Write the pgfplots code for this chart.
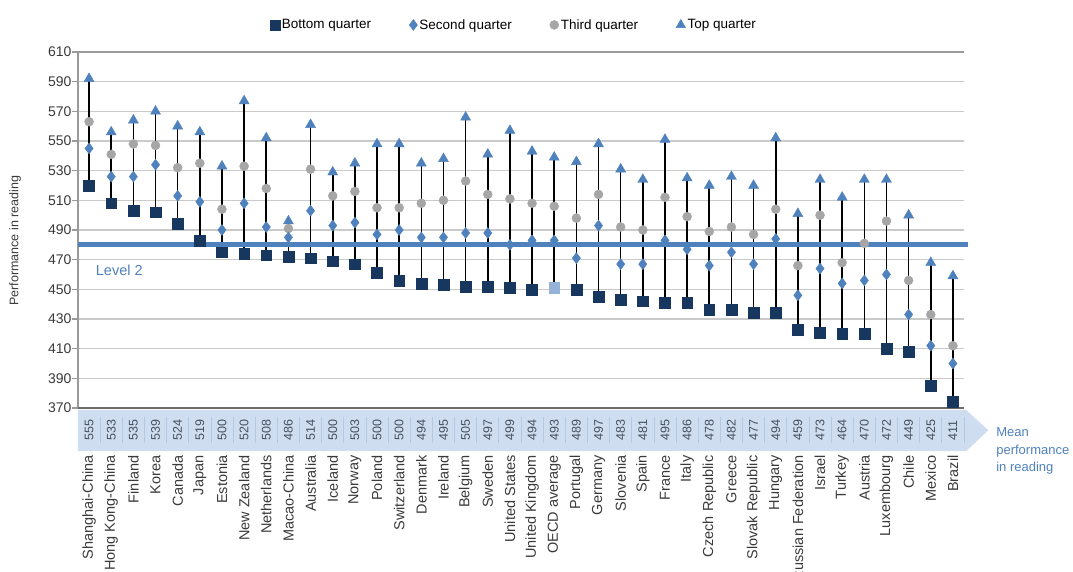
\documentclass[border=0pt]{standalone}
\usepackage{fontspec}
\setmainfont{Liberation Sans}
\usepackage{pgfplots}
\usepackage{pgfplotstable}
\pgfplotsset{compat=1.18}

\definecolor{bq}{HTML}{17375E}
\definecolor{sq}{HTML}{4F81BD}
\definecolor{tq}{HTML}{A6A6A6}
\definecolor{oecd}{HTML}{95B3D7}
\definecolor{band}{HTML}{CFDDF0}
\definecolor{bandline}{HTML}{B4C8E3}
\definecolor{txt}{HTML}{3A3A3A}
\definecolor{meantxt}{HTML}{46505F}
\definecolor{gridc}{HTML}{CACACA}
\definecolor{framec}{HTML}{9A9A9A}

% quartile cut points and mean, PISA reading
\pgfplotstableread{
idx bottom second third top mean
0  520 545 563 592 555
1  508 526 541 556 533
2  503 526 548 564 535
3  502 534 547 570 539
4  494 513 532 560 524
5  483 509 535 556 519
6  475 490 504 533 500
7  474 508 533 577 520
8  473 492 518 552 508
9  472 485 491 496 486
10 471 503 531 561 514
11 469 493 513 529 500
12 467 495 516 535 503
13 461 487 505 548 500
14 456 490 505 548 500
15 454 485 508 535 494
16 453 485 510 538 495
17 452 488 523 566 505
18 452 488 514 541 497
19 451 480 511 557 499
20 450 483 508 543 494
21 451 483 506 539 493
22 450 471 498 536 489
23 445 493 514 548 497
24 443 467 492 531 483
25 442 467 490 524 481
26 441 483 512 551 495
27 441 477 499 525 486
28 436 466 489 520 478
29 436 475 492 526 482
30 434 467 487 520 477
31 434 484 504 552 494
32 423 446 466 501 459
33 421 464 500 524 473
34 420 454 468 512 464
35 420 456 481 524 470
36 410 460 496 524 472
37 408 433 456 500 449
38 385 412 433 468 425
39 374 400 412 459 411
}\pisa

\begin{document}
\begin{tikzpicture}
\path[use as bounding box] (-78pt,-164pt) rectangle (995pt,408pt);
\begin{axis}[
    scale only axis,
    width=886pt, height=356pt,
    xmin=-0.5, xmax=39.5,
    ymin=370, ymax=610,
    clip=false,
    separate axis lines,
    axis x line*=bottom,
    axis y line*=left,
    x axis line style={draw=none},
    y axis line style={draw=none},
    ytick={370,390,...,610},
    ytick style={draw=none},
    xtick={0,...,39},
    xtick style={draw=none},
    xticklabels={Shanghai-China, Hong Kong-China, Finland, Korea, Canada, Japan,
      Estonia, New Zealand, Netherlands, Macao-China, Australia, Iceland, Norway,
      Poland, Switzerland, Denmark, Ireland, Belgium, Sweden, United States,
      United Kingdom, OECD average, Portugal, Germany, Slovenia, Spain, France,
      Italy, Czech Republic, Greece, Slovak Republic, Hungary, Russian Federation,
      Israel, Turkey, Austria, Luxembourg, Chile, Mexico, Brazil},
    xticklabel shift=44pt,
    xticklabel style={rotate=90, anchor=east, font=\fontsize{14.5}{16}\selectfont, text=txt},
    yticklabel style={font=\fontsize{14}{16}\selectfont, text=txt, xshift=-3pt},
    /pgf/number format/assume math mode=true,
    ylabel={Performance in reading},
    every axis y label/.style={at={(axis description cs:-0.071,0.47)}, rotate=90,
      anchor=center, font=\fontsize{12.5}{14}\selectfont, text=txt},
    legend style={at={(0.492,1.076)}, anchor=center, draw=none, fill=none,
      font=\fontsize{13.5}{15}\selectfont, text=black,
      /tikz/every even column/.append style={column sep=36pt}},
    legend columns=4,
]
% blank out the stray right border line
\draw[white, line width=2pt] (axis cs:39.5,369) -- (axis cs:39.5,611);
% horizontal grid with short outside ticks
\foreach \g in {390,410,...,590} {
  \edef\tmp{\noexpand\draw[gridc, line width=1.6pt] (axis cs:-0.5,\g) -- (axis cs:39.5,\g);
    \noexpand\draw[framec, line width=1.4pt] (axis cs:-0.5,\g) -- ++(-6pt,0pt);}\tmp
}
\draw[framec, line width=1.4pt] (axis cs:-0.5,370) -- ++(-6pt,0pt);
\draw[framec, line width=1.4pt] (axis cs:-0.5,610) -- ++(-6pt,0pt);
% mean band below the axis
\fill[band] (axis cs:-0.5,368.7) -- (axis cs:39.6,368.7) -- (axis cs:40.6,354.9)
  -- (axis cs:39.6,341) -- (axis cs:-0.5,341) -- cycle;
\addplot[forget plot, only marks, mark=|, mark size=13pt,
  mark options={draw=bandline, line width=0.8pt}]
  table[x expr=\thisrow{idx}+0.5, y expr=355] {\pisa};
\addplot[forget plot, only marks, mark=none, point meta=explicit,
  nodes near coords,
  nodes near coords style={rotate=90, anchor=center,
    font=\fontsize{12.5}{14}\selectfont, text=meantxt}]
  table[x=idx, y expr=355, meta=mean] {\pisa};

% frame lines: top, left, bottom
\draw[framec, line width=1.6pt] (axis cs:-0.5,610) -- (axis cs:39.5,610);
\draw[framec, line width=1.6pt] (axis cs:-0.5,370) -- (axis cs:-0.5,610);
\draw[gray!85!black, line width=2.4pt] (axis cs:-0.5,370) -- (axis cs:39.5,370);

% quartile markers
\addplot[forget plot, only marks, mark=*, mark size=4.5pt,
  mark options={draw=tq, fill=tq}] table[x=idx, y=third] {\pisa};
\addplot[forget plot, only marks, mark=diamond*, mark size=5.5pt,
  mark options={draw=sq, fill=sq}] table[x=idx, y=second] {\pisa};
\addplot[forget plot, only marks, mark=triangle*, mark size=5.8pt,
  mark options={draw=sq, fill=sq}] table[x=idx, y=top] {\pisa};
% whiskers bottom to top
\addplot[forget plot, only marks, mark=none,
  error bars/.cd, y dir=plus, y explicit, error mark=none,
  error bar style={draw=black, solid, line width=1.6pt}]
  table[x=idx, y=bottom, y error expr=\thisrow{top}-\thisrow{bottom}] {\pisa};
% level 2 threshold
\addplot[forget plot, draw=sq, line width=4.8pt] coordinates {(-0.5,480) (39.7,480)};
\node[anchor=west, text=sq, font=\fontsize{14.5}{16}\selectfont] at (axis cs:0.15,463) {Level 2};
\addplot[forget plot, only marks, mark=square*, mark size=5.4pt,
  mark options={draw=bq, fill=bq}] table[x=idx, y=bottom] {\pisa};
\addplot[forget plot, only marks, mark=square*, mark size=5.4pt,
  mark options={draw=oecd, fill=oecd}] coordinates {(21,451)};

\node[anchor=north west, align=left, text=sq, font=\fontsize{13}{17.5}\selectfont]
  at (axis cs:40.8,359) {Mean\\performance\\in reading};

\addlegendimage{only marks, mark=square*, mark size=5pt, mark options={draw=bq, fill=bq}}
\addlegendentry{Bottom quarter}
\addlegendimage{only marks, mark=diamond*, mark size=5.5pt, mark options={draw=sq, fill=sq}}
\addlegendentry{Second quarter}
\addlegendimage{only marks, mark=*, mark size=4.5pt, mark options={draw=tq, fill=tq}}
\addlegendentry{Third quarter}
\addlegendimage{only marks, mark=triangle*, mark size=5.5pt, mark options={draw=sq, fill=sq}}
\addlegendentry{Top quarter}
\end{axis}
\end{tikzpicture}
\end{document}
